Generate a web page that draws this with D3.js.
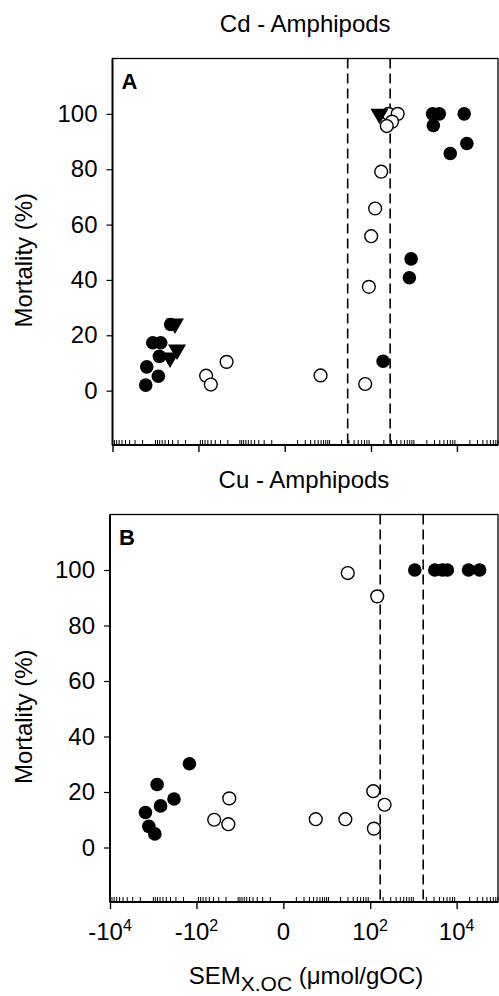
<!DOCTYPE html>
<html>
<head>
<meta charset="utf-8">
<script src="https://cdn.jsdelivr.net/npm/d3@7"></script>
<style>
  html, body { margin: 0; padding: 0; background: #fff; }
  svg { display: block; }
  text { font-family: "Liberation Sans", Arial, sans-serif; fill: #000; }
</style>
</head>
<body>
<svg id="chart" width="499" height="996"></svg>
<script>
// ---------------- DATA ----------------
const panelTitles = ["Cd - Amphipods", "Cu - Amphipods"];
const panelLetters = ["A", "B"];
const xTickValues = [-1e4, -1e2, 0, 1e2, 1e4];
const xTickBase = ["-10", "-10", "0", "10", "10"];
const xTickExp  = ["4", "2", "", "2", "4"];
const yTickValues = [0, 20, 40, 60, 80, 100];
const xDomain = [-1e4, 9e4];
const yDomain = [-20, 120];

// Cd panel (A): [SEM_x.OC, mortality %]
const cdFilled = [
  [-1690, 2], [-1600, 8.6], [-860, 5.2], [-1160, 17.3], [-757, 17.3],
  [-813, 12.4], [-444, 23.9], [192, 10.6], [785, 40.8], [861, 47.6],
  [2720, 100], [3900, 100], [2830, 95.8], [14760, 100], [17000, 89.3], [7000, 85.7]
];
const cdOpen = [
  [-66, 5.4], [-51, 2.2], [-21.4, 10.4], [5.8, 5.5], [73, 2.4], [89, 37.5],
  [101, 55.8], [125, 65.8], [173, 79.1], [256, 100], [420, 100], [311, 97.2], [234, 95.6]
];
const cdTriangles = [[-460, 11.9], [-316, 14.8], [-353, 24.2], [158, 100]];
const cdThresholds = [28, 280];

// Cu panel (B)
const cuFilled = [
  [-1520, 12.6], [-1270, 7.6], [-923, 4.9], [-680, 15.0], [-818, 22.7],
  [-333, 17.5], [-146, 30.2],
  [1080, 100], [3140, 100], [4680, 100], [6100, 100], [18800, 100], [33800, 100]
];
const cuOpen = [
  [29.7, 98.9], [146, 90.5], [-38.4, 10.0], [-17.6, 8.4], [-16.7, 17.7],
  [4.6, 10.2], [26, 10.2], [118, 20.3], [122, 6.8], [216, 15.4]
];
const cuTriangles = [];
const cuThresholds = [171, 1690];

// ---------------- DRAW ----------------
const svg = d3.select("#chart");

const panels = [
  { left: 112.5, right: 498, top: 58.5, bottom: 446, frameBottom: 445,
    title: panelTitles[0], letter: panelLetters[0], titleY: 32,
    filled: cdFilled, open: cdOpen, tri: cdTriangles, thr: cdThresholds, xLabels: false },
  { left: 110, right: 498, top: 514.5, bottom: 903, frameBottom: 902,
    title: panelTitles[1], letter: panelLetters[1], titleY: 488,
    filled: cuFilled, open: cuOpen, tri: cuTriangles, thr: cuThresholds, xLabels: true }
];

panels.forEach(p => {
  const g = svg.append("g");
  const x = d3.scaleSymlog().constant(1).domain(xDomain).range([p.left, p.right]);
  const y = d3.scaleLinear().domain(yDomain).range([p.bottom, p.top]);
  const yTop = p.top, yBot = p.frameBottom;

  // title
  g.append("text").attr("x", (p.left + p.right) / 2).attr("y", p.titleY)
    .attr("text-anchor", "middle").attr("font-size", 24).text(p.title);

  // threshold dashed lines
  g.selectAll(".thr").data(p.thr).enter().append("line")
    .attr("x1", d => x(d)).attr("x2", d => x(d))
    .attr("y1", yTop).attr("y2", yBot)
    .attr("stroke", "#000").attr("stroke-width", 1.6)
    .attr("stroke-dasharray", "10,5");

  // frame
  g.append("rect").attr("x", p.left).attr("y", yTop)
    .attr("width", p.right - p.left).attr("height", yBot - yTop)
    .attr("fill", "none").attr("stroke", "#000").attr("stroke-width", 1.3);
  g.append("line").attr("x1", p.left).attr("x2", p.left).attr("y1", yTop).attr("y2", yBot)
    .attr("stroke", "#000").attr("stroke-width", 1.8);
  g.append("line").attr("x1", p.left).attr("x2", p.right).attr("y1", yBot).attr("y2", yBot)
    .attr("stroke", "#000").attr("stroke-width", 1.8);

  // y axis
  const yAxis = d3.axisLeft(y).tickValues(yTickValues).tickSize(6).tickPadding(9)
    .tickFormat(d3.format("d"));
  const ya = g.append("g").attr("transform", `translate(${p.left},0)`).call(yAxis);
  ya.select(".domain").remove();
  ya.selectAll("text").attr("font-size", 24).attr("font-family", "Liberation Sans, Arial, sans-serif").attr("fill", "#000");
  ya.selectAll("line").attr("stroke-width", 1.2);

  // y axis title
  g.append("text")
    .attr("transform", `translate(32,${(p.top + p.bottom) / 2 + 8}) rotate(-90)`)
    .attr("text-anchor", "middle").attr("font-size", 24).text("Mortality (%)");

  // x minor ticks (inside, upward)
  const minor = [];
  for (let n = 0; n <= 4; n++) {
    for (let k = 1; k <= 9; k++) {
      const v = k * Math.pow(10, n);
      [v, -v].forEach(w => {
        if (w >= xDomain[0] && w <= xDomain[1] && xTickValues.indexOf(w) < 0) minor.push(w);
      });
    }
  }
  g.selectAll(".minor").data(minor).enter().append("line")
    .attr("x1", d => x(d)).attr("x2", d => x(d))
    .attr("y1", yBot).attr("y2", yBot - 5)
    .attr("stroke", "#000").attr("stroke-width", 1);

  // x major ticks (outside, downward)
  const xAxis = d3.axisBottom(x).tickValues(xTickValues).tickSize(7).tickFormat("");
  const xa = g.append("g").attr("transform", `translate(0,${yBot})`).call(xAxis);
  xa.select(".domain").remove();
  xa.selectAll("line").attr("stroke-width", 1.4);

  if (p.xLabels) {
    const lab = g.selectAll(".xl").data(xTickValues).enter().append("text")
      .attr("x", d => x(d)).attr("y", 940).attr("text-anchor", "middle").attr("font-size", 24);
    lab.append("tspan").text((d, i) => xTickBase[i]);
    lab.append("tspan").attr("dy", -9).attr("font-size", 16).text((d, i) => xTickExp[i]);

    const xt = g.append("text").attr("x", (p.left + p.right) / 2 + 2).attr("y", 984)
      .attr("text-anchor", "middle").attr("font-size", 24);
    xt.append("tspan").text("SEM");
    xt.append("tspan").attr("dy", 7).attr("font-size", 21).text("X.OC");
    xt.append("tspan").attr("dy", -7).attr("font-size", 24).text(" (\u03BCmol/gOC)");
  }

  // panel letter
  g.append("text").attr("x", p.left + 9).attr("y", yTop + 30)
    .attr("font-size", 22).attr("font-weight", "bold").text(p.letter);

  // open circles
  g.selectAll(".open").data(p.open).enter().append("circle")
    .attr("cx", d => x(d[0])).attr("cy", d => y(d[1])).attr("r", 6.4)
    .attr("fill", "#fff").attr("stroke", "#000").attr("stroke-width", 1.4);
  // filled circles
  g.selectAll(".filled").data(p.filled).enter().append("circle")
    .attr("cx", d => x(d[0])).attr("cy", d => y(d[1])).attr("r", 6.8)
    .attr("fill", "#000");
  // triangles (down)
  const tri = d3.symbol().type(d3.symbolTriangle).size(140);
  g.selectAll(".tri").data(p.tri).enter().append("path")
    .attr("d", tri)
    .attr("transform", d => `translate(${x(d[0])},${y(d[1])}) rotate(180)`)
    .attr("fill", "#000");
});
</script>
</body>
</html>
